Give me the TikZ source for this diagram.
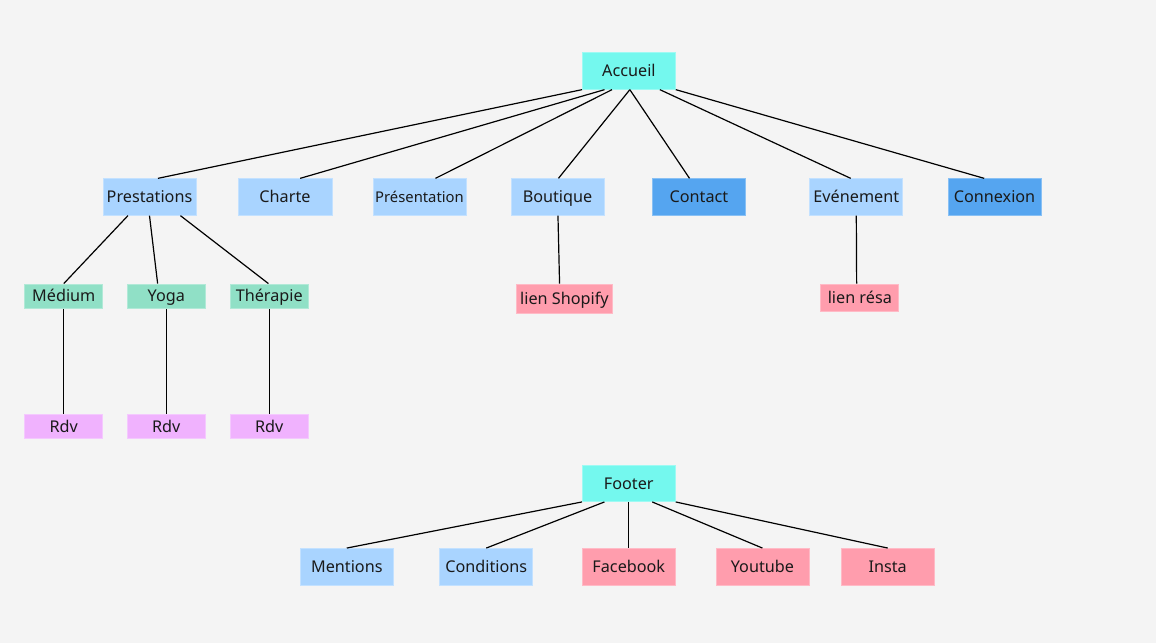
\documentclass[tikz,border=0pt]{standalone}
\usepackage{fontspec}
\setmainfont{Noto Sans}
\usetikzlibrary{calc}
\definecolor{bg}{HTML}{F4F4F4}
\definecolor{cyanbox}{HTML}{74F8EE}
\definecolor{lightblue}{HTML}{A9D4FF}
\definecolor{darkblue}{HTML}{55A5F0}
\definecolor{greenbox}{HTML}{90E0C6}
\definecolor{violetbox}{HTML}{F0B2FE}
\definecolor{pinkbox}{HTML}{FF9DAD}
\definecolor{txt}{HTML}{1A1A1A}
\tikzset{
  box/.style={rectangle, inner sep=0pt, minimum width=93, minimum height=36.5,
    text height=12pt, text depth=0.5pt,
    font=\fontsize{16.2}{18}\selectfont, text=txt, line width=0.8},
  cyanb/.style={box, fill=cyanbox, draw=cyanbox!70!white},
  lblue/.style={box, fill=lightblue, draw=lightblue!70!white},
  dblue/.style={box, fill=darkblue, draw=darkblue!70!white},
  greenb/.style={box, fill=greenbox, draw=greenbox!70!white, minimum width=78, minimum height=24.5},
  violetb/.style={box, fill=violetbox, draw=violetbox!70!white, minimum width=78, minimum height=24.5},
  pinkb/.style={box, fill=pinkbox, draw=pinkbox!70!white},
  link/.style={draw=black, line width=1.2}
}
\newcommand\linkfromto[4]{\draw[link] ($(#1.south west)!#2!(#1.south east)$) -- ($(#3.north west)!#4!(#3.north east)$);}
\begin{document}
\begin{tikzpicture}[x=1pt,y=-1pt]
\fill[bg] (0,0) rectangle (1156,643);
\useasboundingbox (0,0) rectangle (1156,643);
% top
\node[cyanb] (accueil) at (628.9,71) {Accueil};
\node[lblue] (prest) at (149.5,197) {Prestations};
\node[lblue, minimum width=94] (charte) at (285,197) {Charte};
\node[lblue, font=\fontsize{14.8}{16}\selectfont] (pres) at (419.5,197) {Présentation};
\node[lblue] (bout) at (557.5,197) {Boutique};
\node[dblue] (contact) at (698.9,197) {Contact};
\node[lblue] (event) at (856.3,197) {Evénement};
\node[dblue] (connex) at (994.5,197) {Connexion};
% level 3
\node[greenb] (medium) at (63.8,296.2) {Médium};
\node[greenb] (yoga) at (166.3,296.2) {Yoga};
\node[greenb] (thera) at (269.2,296.2) {Thérapie};
\node[violetb] (rdva) at (63.8,426.3) {Rdv};
\node[violetb] (rdvb) at (166.3,426.3) {Rdv};
\node[violetb] (rdvc) at (269.2,426.3) {Rdv};
\node[pinkb, minimum width=96, minimum height=29] (shop) at (564.4,298.5) {lien Shopify};
\node[pinkb, minimum width=78, minimum height=27] (resa) at (859.8,297.5) {lien résa};
% footer
\node[cyanb] (footer) at (628.8,483.3) {Footer};
\node[lblue] (mentions) at (346.8,566.7) {Mentions};
\node[lblue] (cond) at (486.3,566.7) {Conditions};
\node[pinkb] (fb) at (628.8,566.7) {Facebook};
\node[pinkb] (yt) at (762.4,566.7) {Youtube};
\node[pinkb] (insta) at (887.7,566.7) {Insta};
% connectors
\linkfromto{accueil}{0}{prest}{0.59}
\linkfromto{accueil}{0.24}{charte}{0.66}
\linkfromto{accueil}{0.32}{pres}{0.67}
\linkfromto{accueil}{0.51}{bout}{0.51}
\linkfromto{accueil}{0.51}{contact}{0.40}
\linkfromto{accueil}{0.83}{event}{0.44}
\linkfromto{accueil}{1}{connex}{0.39}
\linkfromto{prest}{0.27}{medium}{0.5}
\linkfromto{prest}{0.5}{yoga}{0.39}
\linkfromto{prest}{0.83}{thera}{0.49}
\linkfromto{medium}{0.5}{rdva}{0.5}
\linkfromto{yoga}{0.5}{rdvb}{0.5}
\linkfromto{thera}{0.5}{rdvc}{0.5}
\linkfromto{bout}{0.505}{shop}{0.45}
\linkfromto{event}{0.5}{resa}{0.46}
\linkfromto{footer}{0}{mentions}{0.5}
\linkfromto{footer}{0.24}{cond}{0.5}
\linkfromto{footer}{0.5}{fb}{0.5}
\linkfromto{footer}{0.75}{yt}{0.5}
\linkfromto{footer}{1}{insta}{0.5}
\end{tikzpicture}
\end{document}
